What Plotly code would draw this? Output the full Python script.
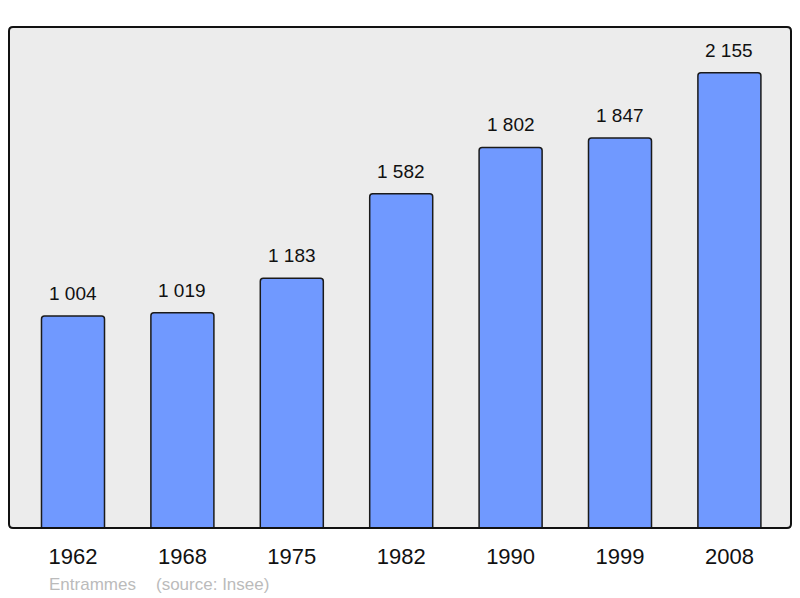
import plotly.graph_objects as go

years = ["1962", "1968", "1975", "1982", "1990", "1999", "2008"]
population = [1004, 1019, 1183, 1582, 1802, 1847, 2155]
town = "Entrammes"
source = "(source: Insee)"

# page body has an 8px margin: figure starts at (8, 8)
OFF = 8
W, H = 800 - OFF, 598 - OFF
L, R, T, B = 9 - OFF, 9, 27 - OFF, 70
pw, ph = W - L - R, H - T - B

fig = go.Figure()
fig.add_trace(go.Bar(
    x=list(range(len(years))), y=population,
    width=0.576,
    marker=dict(color="#7099ff", line=dict(color="#1a1a1a", width=1.5), cornerradius=3),
    hoverinfo="skip",
))

def fmt(v):
    return f"{v:,}".replace(",", " ")

FONT = "Liberation Sans, Arial, sans-serif"
annotations = []
for i, v in enumerate(population):
    annotations.append(dict(
        x=i, y=v, xref="x", yref="y", text=fmt(v), showarrow=False,
        yanchor="bottom", yshift=10,
        font=dict(family=FONT, size=19, color="#111111"),
    ))
foot_y = -(584 - 27 - ph) / ph
annotations.append(dict(
    x=(47 - 9) / pw, y=foot_y, xref="paper", yref="paper",
    text=town, showarrow=False, xanchor="left", yanchor="middle",
    font=dict(family=FONT, size=17, color="#bbbbbb"),
))
annotations.append(dict(
    x=(154 - 9) / pw, y=foot_y, xref="paper", yref="paper",
    text=source, showarrow=False, xanchor="left", yanchor="middle",
    font=dict(family=FONT, size=17, color="#bbbbbb"),
))

rx, ry = 4 / pw, 4 / ph
path = (f"M {rx},0 L {1-rx},0 Q 1,0 1,{ry} L 1,{1-ry} Q 1,1 {1-rx},1 "
        f"L {rx},1 Q 0,1 0,{1-ry} L 0,{ry} Q 0,0 {rx},0 Z")
fig.add_shape(type="path", path=path, xref="paper", yref="paper",
              line=dict(color="#111111", width=2), layer="above")

fig.update_layout(
    width=W, height=H,
    margin=dict(l=L, r=R, t=T, b=B, pad=0),
    paper_bgcolor="white", plot_bgcolor="#ececec",
    showlegend=False,
    annotations=annotations,
    xaxis=dict(range=[-0.585, 6.563], tickvals=list(range(len(years))), ticktext=years,
               showgrid=False, zeroline=False, showline=False, ticks="",
               ticklabelstandoff=13,
               tickfont=dict(family=FONT, size=22, color="#111111")),
    yaxis=dict(range=[0, 2372], showgrid=False, zeroline=False, showline=False,
               showticklabels=False, ticks=""),
)

fig.write_html("out.html")
